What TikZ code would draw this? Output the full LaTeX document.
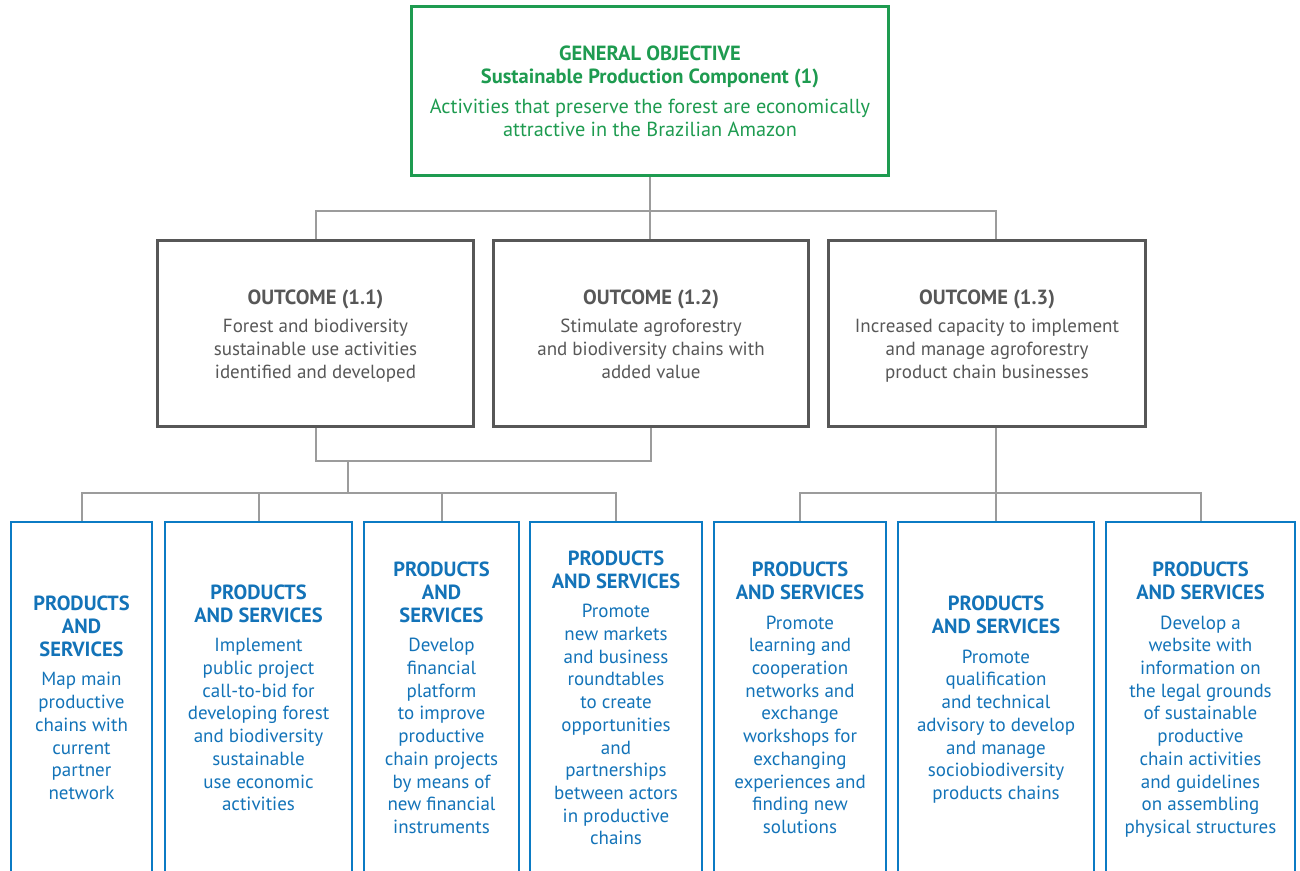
\documentclass[tikz,border=0pt]{standalone}
\usepackage{fontspec}
\setmainfont{PT Sans}
\definecolor{objgreen}{HTML}{1E9B50}
\definecolor{outgray}{HTML}{575757}
\definecolor{psblue}{HTML}{0B7BC4}
\definecolor{psbluetext}{HTML}{1373B8}
\definecolor{linkgray}{HTML}{9C9C9C}
% bold heading line with a strut, so every box centres alike
\newcommand{\hd}[1]{{\fontsize{20.5}{22.7}\selectfont\bfseries\strut #1}}
% first heading line: a taller strut sets the text block a little lower
\newcommand{\hdtop}[1]{{\fontsize{20.5}{22.7}\selectfont\bfseries\rule{0pt}{22pt}#1}}
\begin{document}
\begin{tikzpicture}[x=1pt,y=-1pt,
  txt/.style={align=center,inner sep=0pt,font=\fontsize{19}{22.7}\selectfont},
  objbox/.style={txt,draw=objgreen,line width=3pt,text=objgreen,
    font=\fontsize{20.3}{22.7}\selectfont},
  outbox/.style={txt,draw=outgray,line width=3pt,text=outgray},
  psbox/.style={txt,draw=psblue,line width=2.8pt,text=psbluetext,
    minimum height=351pt},
  link/.style={draw=linkgray,line width=2pt}]
\useasboundingbox (0,0) rectangle (1300,870);

% general objective
\node[objbox,minimum width=477pt,minimum height=169pt] (goal) at (650,91)
  {\hdtop{GENERAL OBJECTIVE}\\\hd{Sustainable Production Component (1)}\\[8pt]
   Activities that preserve the forest are economically\\attractive in the Brazilian Amazon\strut};

% outcomes
\node[outbox,minimum width=316pt,minimum height=186pt] (o1) at (315.5,333.5)
  {\hdtop{OUTCOME (1.1)}\\[6pt]Forest and biodiversity\\sustainable use activities\\identified and developed\strut};
\node[outbox,minimum width=315pt,minimum height=186pt] (o2) at (651,333.5)
  {\hdtop{OUTCOME (1.2)}\\[6pt]Stimulate agroforestry\\and biodiversity chains with\\added value\strut};
\node[outbox,minimum width=317pt,minimum height=186pt] (o3) at (987,333.5)
  {\hdtop{OUTCOME (1.3)}\\[6pt]Increased capacity to implement\\and manage agroforestry\\product chain businesses\strut};

% products and services
\node[psbox,minimum width=141pt] (p1) at (81.5,697.5)
  {\hdtop{PRODUCTS}\\\hd{AND}\\\hd{SERVICES}\\[7pt]Map main\\productive\\chains with\\current\\partner\\network\strut};
\node[psbox,minimum width=187pt] (p2) at (258.5,697.5)
  {\hdtop{PRODUCTS}\\\hd{AND SERVICES}\\[7pt]Implement\\public project\\call-to-bid for\\developing forest\\and biodiversity\\sustainable\\use economic\\activities\strut};
\node[psbox,minimum width=155pt] (p3) at (441.5,697.5)
  {\hdtop{PRODUCTS}\\\hd{AND}\\\hd{SERVICES}\\[7pt]Develop\\financial\\platform\\to improve\\productive\\chain projects\\by means of\\new financial\\instruments\strut};
\node[psbox,minimum width=172pt] (p4) at (616,697.5)
  {\hdtop{PRODUCTS}\\\hd{AND SERVICES}\\[7pt]Promote\\new markets\\and business\\roundtables\\to create\\opportunities\\and\\partnerships\\between actors\\in productive\\chains\strut};
\node[psbox,minimum width=172pt] (p5) at (800,697.5)
  {\hdtop{PRODUCTS}\\\hd{AND SERVICES}\\[7pt]Promote\\learning and\\cooperation\\networks and\\exchange\\workshops for\\exchanging\\experiences and\\finding new\\solutions\strut};
\node[psbox,minimum width=196pt] (p6) at (996,697.5)
  {\hdtop{PRODUCTS}\\\hd{AND SERVICES}\\[7pt]Promote\\qualification\\and technical\\advisory to develop\\and manage\\sociobiodiversity\\products chains\strut};
\node[psbox,minimum width=189pt] (p7) at (1200.5,697.5)
  {\hdtop{PRODUCTS}\\\hd{AND SERVICES}\\[7pt]Develop a\\website with\\information on\\the legal grounds\\of sustainable\\productive\\chain activities\\and guidelines\\on assembling\\physical structures\strut};

% connector levels
\coordinate (busA) at (0,211);
\coordinate (busB) at (0,461);
\coordinate (busC) at (0,493);
\coordinate (m12) at (348,461);

% objective to outcomes
\draw[link] (goal.south) -- (goal.south |- o2.north);
\draw[link] (o1.north) -- (o1.north |- busA) -- (p6.north |- busA) -- (o3.north -| p6.north);

% outcomes 1.1 and 1.2 to their products
\draw[link] (o1.south) -- (o1.south |- busB) -- (o2.south |- busB) -- (o2.south);
\draw[link] (m12) -- (m12 |- busC);
\draw[link] (p1.north) -- (p1.north |- busC) -- (p4.north |- busC) -- (p4.north);
\draw[link] (p2.north) -- (p2.north |- busC);
\draw[link] (p3.north) -- (p3.north |- busC);

% outcome 1.3 to its products
\draw[link] (o3.south -| p6.north) -- (p6.north);
\draw[link] (p5.north) -- (p5.north |- busC) -- (p7.north |- busC) -- (p7.north);
\end{tikzpicture}
\end{document}
